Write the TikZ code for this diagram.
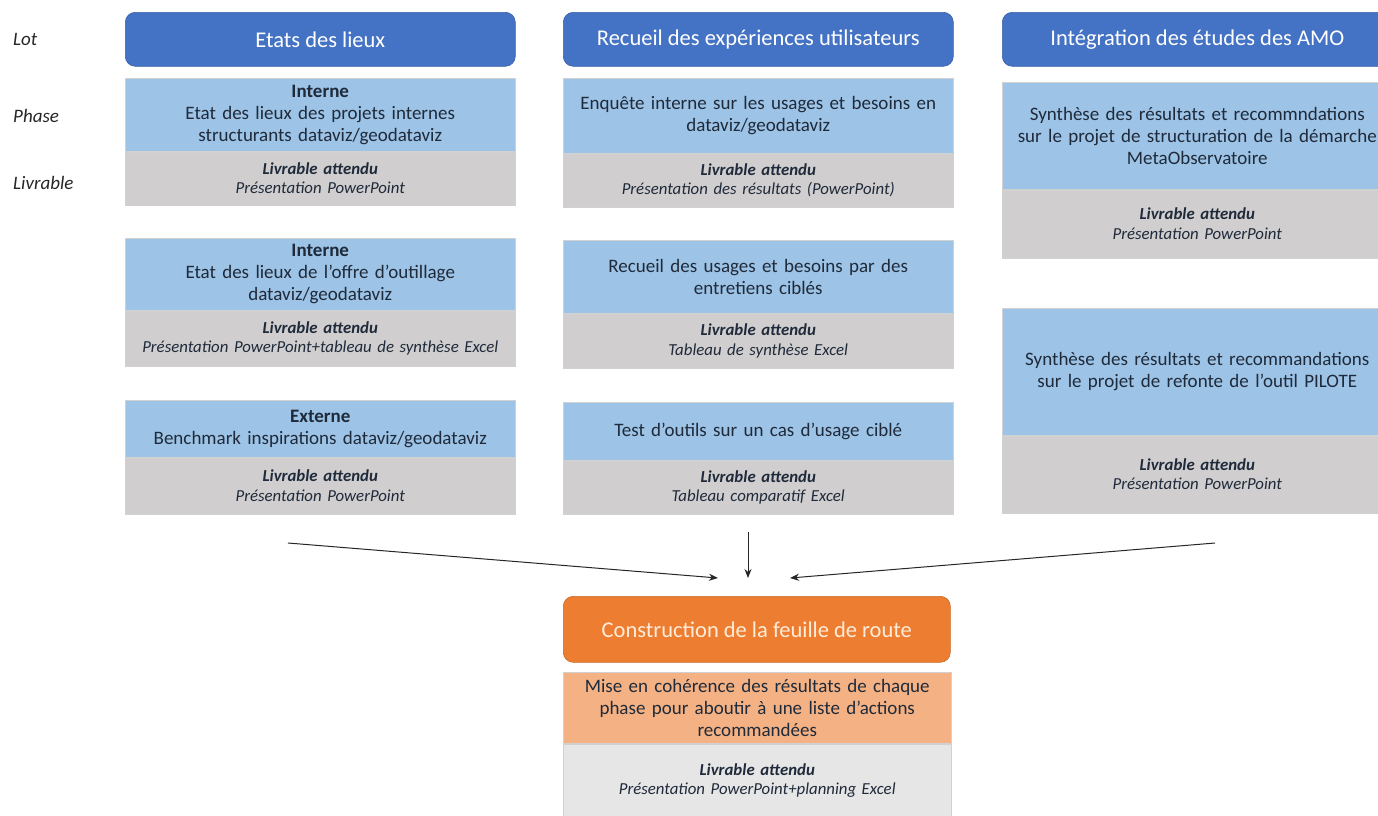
\documentclass[tikz,border=0pt]{standalone}
\usepackage{fontspec}
\setmainfont{Carlito}
\usetikzlibrary{arrows.meta, positioning}
\definecolor{lotBlue}{HTML}{4472C4}
\definecolor{phaseBlue}{HTML}{9DC3E6}
\definecolor{livGray}{HTML}{D0CECE}
\definecolor{roadOrange}{HTML}{ED7D31}
\definecolor{roadLight}{HTML}{F4B183}
\definecolor{roadGray}{HTML}{E7E6E6}
\definecolor{mainText}{HTML}{1F2A3A}
\definecolor{edgeGray}{gray}{0.82}

\begin{document}
\begin{tikzpicture}[x=1pt, y=-1pt, >={Stealth[length=9pt, width=7pt]},
    lotbox/.style={rounded corners=10pt, fill=lotBlue, draw=lotBlue!85!black, line width=0.6pt,
        text=white, font=\fontsize{22.5}{26}\selectfont, minimum width=390pt, minimum height=54pt,
        inner sep=0pt, anchor=north west},
    phasebox/.style={fill=phaseBlue, draw=edgeGray, line width=0.5pt, text=mainText,
        font=\fontsize{19}{22}\selectfont, align=center, text width=388pt, minimum width=390pt,
        inner sep=0pt, anchor=north west},
    livbox/.style={fill=livGray, draw=edgeGray, line width=0.5pt, text=mainText,
        font=\fontsize{16.8}{19.5}\selectfont\itshape, align=center, text width=388pt,
        minimum width=390pt, inner sep=0pt},
    rowlabel/.style={anchor=west, text=black!85, font=\fontsize{19}{22}\selectfont\itshape, inner sep=0pt}]

    \useasboundingbox (0,0) rectangle (1378,815);
    \clip (0,0) rectangle (1378,815);

    \node[rowlabel] (lotlab) at (13,39) {Lot};
    \node[rowlabel] (phaselab) at (13,116) {Phase};
    \node[rowlabel] (livlab) at (13,183) {Livrable};

    % Etats des lieux
    \node[lotbox] (lot1) at (125,12) {Etats des lieux};
    \node[phasebox, minimum height=73pt] (ph11) at (125,78) {\textbf{Interne}\\Etat des lieux des projets internes\\structurants dataviz/geodataviz};
    \node[livbox, minimum height=53pt, below=0pt of ph11] (lv11) {\textbf{Livrable attendu}\\Présentation PowerPoint};
    \node[phasebox, minimum height=72pt] (ph12) at (125,238) {\textbf{Interne}\\Etat des lieux de l’offre d’outillage\\dataviz/geodataviz};
    \node[livbox, minimum height=55pt, below=0pt of ph12] (lv12) {\textbf{Livrable attendu}\\Présentation PowerPoint+tableau de synthèse Excel};
    \node[phasebox, minimum height=57pt] (ph13) at (125,400) {\textbf{Externe}\\Benchmark inspirations dataviz/geodataviz};
    \node[livbox, minimum height=56pt, below=0pt of ph13] (lv13) {\textbf{Livrable attendu}\\Présentation PowerPoint};

    % Recueil des experiences
    \node[lotbox] (lot2) at (563,12) {Recueil des expériences utilisateurs};
    \node[phasebox, minimum height=75pt] (ph21) at (563,78) {Enquête interne sur les usages et besoins en\\dataviz/geodataviz};
    \node[livbox, minimum height=53pt, below=0pt of ph21] (lv21) {\textbf{Livrable attendu}\\Présentation des résultats (PowerPoint)};
    \node[phasebox, minimum height=73pt] (ph22) at (563,240) {Recueil des usages et besoins par des\\entretiens ciblés};
    \node[livbox, minimum height=54pt, below=0pt of ph22] (lv22) {\textbf{Livrable attendu}\\Tableau de synthèse Excel};
    \node[phasebox, minimum height=58pt] (ph23) at (563,402) {Test d’outils sur un cas d’usage ciblé};
    \node[livbox, minimum height=53pt, below=0pt of ph23] (lv23) {\textbf{Livrable attendu}\\Tableau comparatif Excel};

    % Integration AMO
    \node[lotbox] (lot3) at (1002,12) {Intégration des études des AMO};
    \node[phasebox, minimum height=107pt] (ph31) at (1002,82) {Synthèse des résultats et recommndations\\sur le projet de structuration de la démarche\\MetaObservatoire};
    \node[livbox, minimum height=68pt, below=0pt of ph31] (lv31) {\textbf{Livrable attendu}\\Présentation PowerPoint};
    \node[phasebox, minimum height=127pt] (ph32) at (1002,308) {Synthèse des résultats et recommandations\\sur le projet de refonte de l’outil PILOTE};
    \node[livbox, minimum height=77pt, below=0pt of ph32] (lv32) {\textbf{Livrable attendu}\\Présentation PowerPoint};

    % Feuille de route
    \node[lotbox, fill=roadOrange, draw=roadOrange!85!black, text=orange!15!white, minimum width=387pt, minimum height=66pt] (lot4) at (563,596) {Construction de la feuille de route};
    \node[phasebox, fill=roadLight, minimum width=387pt, minimum height=71pt] (ph41) at (563,672) {Mise en cohérence des résultats de chaque\\phase pour aboutir à une liste d’actions\\recommandées};
    \node[livbox, fill=roadGray, minimum width=387pt, minimum height=74pt, below=0pt of ph41] (lv41) {\textbf{Livrable attendu}\\Présentation PowerPoint+planning Excel};

    \coordinate (fromLieux) at (288,543);
    \coordinate (fromRecueil) at (748,532);
    \coordinate (fromAmo) at (1215,543);
    \coordinate (toLeft) at (718,578);
    \coordinate (toMid) at (748,578);
    \coordinate (toRight) at (790,578);

    \draw[->, line width=1pt, black!85] (fromLieux) -- (toLeft);
    \draw[->, line width=1pt, black!85] (fromRecueil) -- (toMid);
    \draw[->, line width=1pt, black!85] (fromAmo) -- (toRight);
\end{tikzpicture}
\end{document}
